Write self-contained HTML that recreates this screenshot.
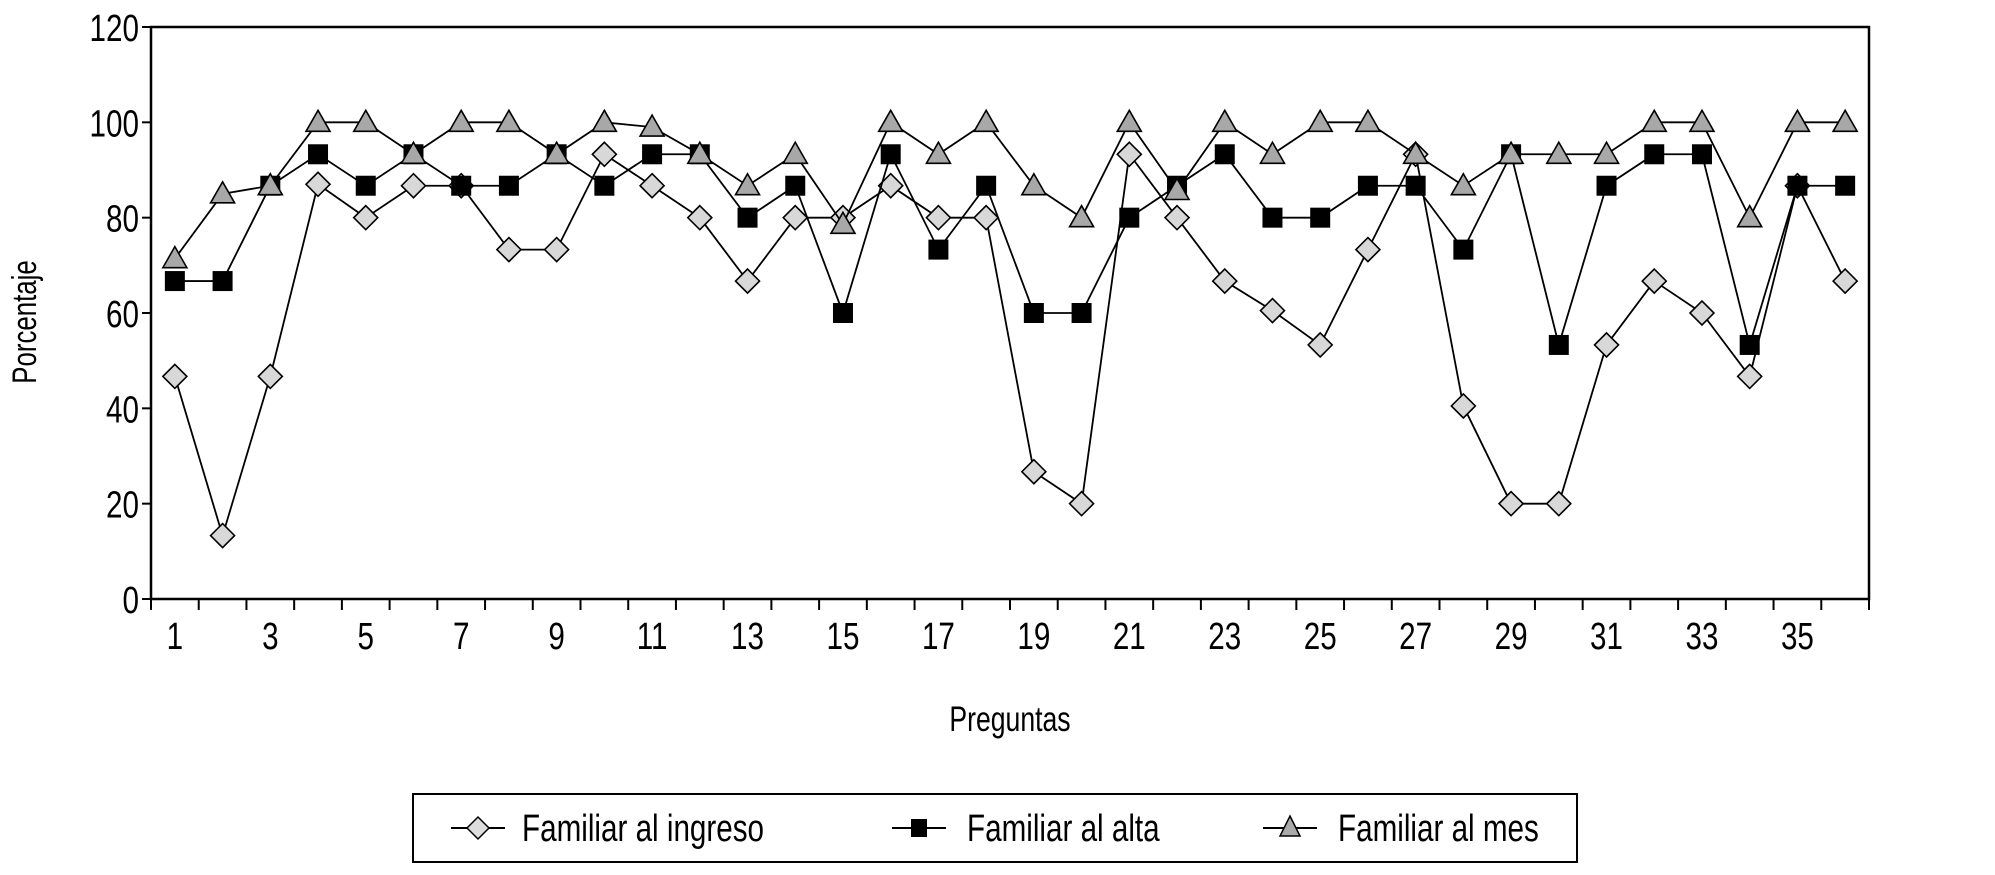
<!DOCTYPE html>
<html><head><meta charset="utf-8"><style>
html,body{margin:0;padding:0;background:#fff;}
svg{display:block;font-family:"Liberation Sans",sans-serif;}
</style></head><body>
<svg id="chart" width="1995" height="875" viewBox="0 0 1995 875">
<rect x="0" y="0" width="1995" height="875" fill="#fff"/>
<g id="axes"></g>
<g id="series"></g>
<text transform="translate(36 322) rotate(-90) scale(0.76 1)" x="0" y="0" font-size="34" text-anchor="middle">Porcentaje</text>
<text transform="translate(1010 731) scale(0.76 1)" x="0" y="0" font-size="35" text-anchor="middle">Preguntas</text>
<g>
<rect x="413" y="794" width="1164" height="68" fill="#fff" stroke="#000" stroke-width="2"/>
<g>
<line x1="451" y1="828" x2="505" y2="828" stroke="#000" stroke-width="2"/>
<polygon points="478,817 489,828 478,839 467,828" fill="#ddd" stroke="#000" stroke-width="1.5"/>
<text transform="translate(522 841) scale(0.78 1)" x="0" y="0" font-size="38">Familiar al ingreso</text>
</g>
<g>
<line x1="892" y1="828" x2="946" y2="828" stroke="#000" stroke-width="2"/>
<rect x="911" y="819" width="16" height="18" fill="#000"/>
<text transform="translate(967 841) scale(0.78 1)" x="0" y="0" font-size="38">Familiar al alta</text>
</g>
<g>
<line x1="1263" y1="828" x2="1317" y2="828" stroke="#000" stroke-width="2"/>
<polygon points="1290,816 1300,836 1280,836" fill="#aaa" stroke="#000" stroke-width="1.5"/>
<text transform="translate(1338 841) scale(0.78 1)" x="0" y="0" font-size="38">Familiar al mes</text>
</g>
</g>
</svg>
<script>
const categories = Array.from({length:36},(_,i)=>i+1);
const ingreso = [46.7,13.3,46.7,87,80,86.7,86.7,73.3,73.3,93.3,86.7,80,66.7,80,80,86.7,80,80,26.7,20,93.3,80,66.7,60.5,53.3,73.3,93.3,40.5,20,20,53.3,66.7,60,46.7,86.7,66.7];
const alta = [66.7,66.7,86.7,93.3,86.7,93.3,86.7,86.7,93.3,86.7,93.3,93.3,80,86.7,60,93.3,73.3,86.7,60,60,80,86.7,93.3,80,80,86.7,86.7,73.3,93.3,53.3,86.7,93.3,93.3,53.3,86.7,86.7];
const mes = [71.4,85,86.7,100,100,93.3,100,100,93.3,100,99,93.3,86.7,93.3,78.6,100,93.3,100,86.7,80,100,85.7,100,93.3,100,100,93.3,86.7,93.3,93.3,93.3,100,100,80,100,100];
const yTicks = [0,20,40,60,80,100,120];

const L=151,R=1869,T=27,B=599,YMAX=120;
const NS="http://www.w3.org/2000/svg";
const bw=(R-L)/categories.length;
function xs(i){return L+bw*(i+0.5);}
function ys(v){return B-(v/YMAX)*(B-T);}
function mk(tag,attrs,parent){const e=document.createElementNS(NS,tag);for(const k in attrs)e.setAttribute(k,attrs[k]);parent.appendChild(e);return e;}
const ax=document.getElementById('axes');
let fr=mk('rect',{x:L,y:T,width:R-L,height:B-T,fill:'none',stroke:'#000','stroke-width':2.5},ax);


yTicks.forEach(t=>{
  const y=ys(t);
  mk('line',{x1:L-9,y1:y,x2:L,y2:y,stroke:'#000','stroke-width':2},ax);
  const tx=mk('text',{x:0,y:0,'font-size':38,'text-anchor':'end',transform:`translate(${L-12} ${y+14}) scale(0.78 1)`},ax);
  tx.textContent=t;
  
  
});
for(let i=0;i<=categories.length;i++){
  const x=L+bw*i;
  mk('line',{x1:x,y1:B,x2:x,y2:B+11,stroke:'#000','stroke-width':2},ax);
}
categories.forEach((c,i)=>{
  if(c%2===1){
    const tx=mk('text',{x:0,y:0,'font-size':38,'text-anchor':'middle',transform:`translate(${xs(i)} ${B+50}) scale(0.78 1)`},ax);
    tx.textContent=c;
    
    
  }
});
const sg=document.getElementById('series');
function series(vals,name,marker){
  const g=mk('g',{},sg);
  
  
  mk('polyline',{points:vals.map((v,i)=>xs(i)+','+ys(v)).join(' '),fill:'none',stroke:'#000','stroke-width':1.8},g);
  vals.forEach((v,i)=>{
    const x=xs(i),y=ys(v);let m;
    if(marker==='d') m=mk('polygon',{points:`${x},${y-12} ${x+12},${y} ${x},${y+12} ${x-12},${y}`,fill:'#d8d8d8',stroke:'#000','stroke-width':1.6},g);
    else if(marker==='s') m=mk('rect',{x:x-10,y:y-10,width:20,height:20,fill:'#000'},g);
    else m=mk('polygon',{points:`${x},${y-12} ${x+12},${y+9} ${x-12},${y+9}`,fill:'#a8a8a8',stroke:'#000','stroke-width':1.6},g);
    
    
  });
}
series(ingreso,'series-ingreso','d');
series(alta,'series-alta','s');
series(mes,'series-mes','t');
</script>
</body></html>
